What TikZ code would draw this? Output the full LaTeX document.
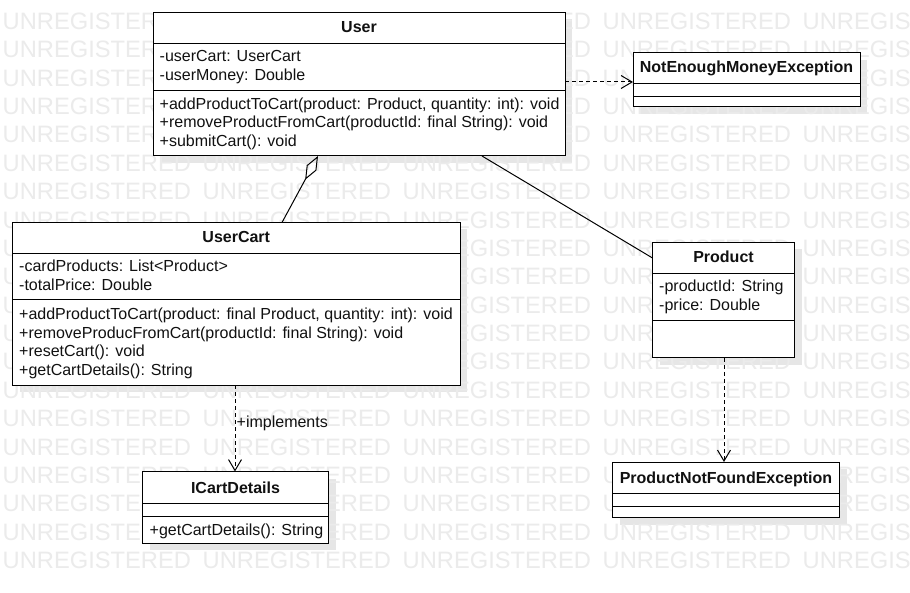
\documentclass[tikz,border=0pt]{standalone}
\usepackage{fontspec}
\setmainfont{Liberation Sans}
\usetikzlibrary{arrows.meta}
\definecolor{wmgray}{HTML}{EBEBEB}
\definecolor{shadowgray}{HTML}{E6E6E6}
\definecolor{ink}{HTML}{111111}
\begin{document}
\begin{tikzpicture}[x=1pt,y=-1pt,
  wm/.style={anchor=base west, inner sep=0, text=wmgray, font=\fontsize{23.7}{24}\selectfont},
  classbox/.style={draw=black, fill=white, line width=1pt, anchor=north west, inner sep=0, outer sep=0},
  shadowbox/.style={fill=shadowgray, draw=none, anchor=north west, inner sep=0, outer sep=0},
  ttl/.style={anchor=base, inner sep=0, font=\fontsize{16}{18}\selectfont\bfseries, text=ink},
  mem/.style={anchor=base west, inner sep=0, font=\fontsize{16}{18}\selectfont, text=ink},
  divider/.style={line width=1pt, draw=black},
  assoc/.style={line width=1pt, draw=black},
  dep/.style={draw=black, line width=1pt, dash pattern=on 4pt off 3pt, -{Straight Barb[length=11pt,width=13pt]}},
  agg/.style={draw=black, line width=1pt, -{Diamond[open,length=27pt,width=11pt]}}
]
\useasboundingbox (0,0) rectangle (910,593);
\fill[white] (0,0) rectangle (910,593);

% shadows
\node[shadowbox, minimum width=412pt, minimum height=143.5pt] (user-sh) at (160,19.5) {};
\node[shadowbox, minimum width=227pt, minimum height=54pt] (nem-sh) at (640,60) {};
\node[shadowbox, minimum width=447.5pt, minimum height=162.5pt] (cart-sh) at (19.5,229.5) {};
\node[shadowbox, minimum width=142pt, minimum height=115.5pt] (prod-sh) at (659.5,249.5) {};
\node[shadowbox, minimum width=227pt, minimum height=55.5pt] (pnf-sh) at (619.5,469) {};
\node[shadowbox, minimum width=186pt, minimum height=71.5pt] (icd-sh) at (149.5,478.5) {};

% watermark
\begin{scope}
\clip (0,0) rectangle (910,593);
\foreach \r in {0,...,19}{
  \foreach \c in {0,...,4}{
    \node[wm] (wm-\r-\c) at ({2.5+200*\c},{29.5+28.37*\r}) {UNREGISTERED};
  }
}
\end{scope}

% User
\node[classbox, minimum width=412pt, minimum height=143.5pt] (user) at (153,12.5) {};
\draw[divider] (user.west |- 0,43.5) -- (user.east |- 0,43.5);
\draw[divider] (user.west |- 0,90.5) -- (user.east |- 0,90.5);
\node[ttl] (user-t) at (359,33) {User};
\node[mem] (user-a1) at (159.5,62) {-userCart: UserCart};
\node[mem] (user-a2) at (159.5,80.5) {-userMoney: Double};
\node[mem] (user-m1) at (159.5,109.5) {+addProductToCart(product: Product, quantity: int): void};
\node[mem] (user-m2) at (159.5,128) {+removeProductFromCart(productId: final String): void};
\node[mem] (user-m3) at (159.5,146.5) {+submitCart(): void};

% NotEnoughMoneyException
\node[classbox, minimum width=227pt, minimum height=54pt] (nem) at (633,53) {};
\draw[divider] (nem.west |- 0,83.5) -- (nem.east |- 0,83.5);
\draw[divider] (nem.west |- 0,96.5) -- (nem.east |- 0,96.5);
\node[ttl] (nem-t) at (746.5,73) {NotEnoughMoneyException};

% UserCart
\node[classbox, minimum width=447.5pt, minimum height=162.5pt] (cart) at (12.5,222.5) {};
\draw[divider] (cart.west |- 0,253.5) -- (cart.east |- 0,253.5);
\draw[divider] (cart.west |- 0,300) -- (cart.east |- 0,300);
\node[ttl] (cart-t) at (236.25,243) {UserCart};
\node[mem] (cart-a1) at (19,272) {-cardProducts: List<Product>};
\node[mem] (cart-a2) at (19,290.5) {-totalPrice: Double};
\node[mem] (cart-m1) at (19,320) {+addProductToCart(product: final Product, quantity: int): void};
\node[mem] (cart-m2) at (19,338.5) {+removeProducFromCart(productId: final String): void};
\node[mem] (cart-m3) at (19,357) {+resetCart(): void};
\node[mem] (cart-m4) at (19,375.5) {+getCartDetails(): String};

% Product
\node[classbox, minimum width=142pt, minimum height=115.5pt] (prod) at (652.5,242.5) {};
\draw[divider] (prod.west |- 0,273.5) -- (prod.east |- 0,273.5);
\draw[divider] (prod.west |- 0,321) -- (prod.east |- 0,321);
\node[ttl] (prod-t) at (723.5,263) {Product};
\node[mem] (prod-a1) at (659,292) {-productId: String};
\node[mem] (prod-a2) at (659,310.5) {-price: Double};

% ProductNotFoundException
\node[classbox, minimum width=227pt, minimum height=55.5pt] (pnf) at (612.5,462) {};
\draw[divider] (pnf.west |- 0,493.5) -- (pnf.east |- 0,493.5);
\draw[divider] (pnf.west |- 0,506) -- (pnf.east |- 0,506);
\node[ttl] (pnf-t) at (726,483) {ProductNotFoundException};

% ICartDetails
\node[classbox, minimum width=186pt, minimum height=71.5pt] (icd) at (142.5,471.5) {};
\draw[divider] (icd.west |- 0,503.5) -- (icd.east |- 0,503.5);
\draw[divider] (icd.west |- 0,516) -- (icd.east |- 0,516);
\node[ttl] (icd-t) at (235.5,493) {ICartDetails};
\node[mem] (icd-m1) at (149.5,535.5) {+getCartDetails(): String};

% connectors
\draw[dep] (user.east |- 0,82) -- (nem.west |- 0,82);
\draw[agg] (cart.north -| 282,0) -- (user.south -| 318,0);
\draw[assoc] (user.south -| 482,0) -- (prod.west |- 0,258);
\draw[dep] (cart.south -| 235,0) -- (icd.north -| 235,0);
\node[mem] (impl) at (236.5,427) {+implements};
\draw[dep] (prod.south -| 724,0) -- (pnf.north -| 724,0);
\end{tikzpicture}
\end{document}
